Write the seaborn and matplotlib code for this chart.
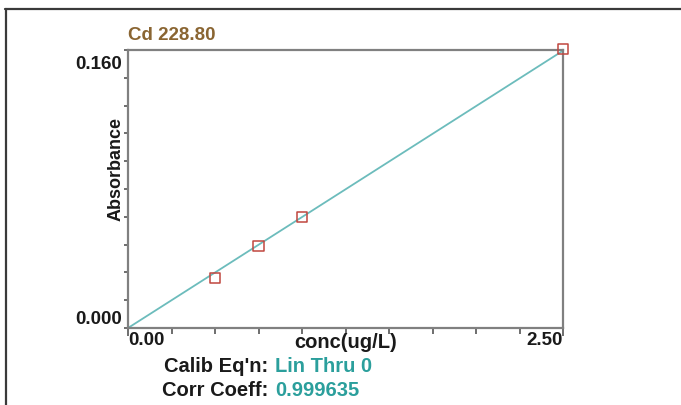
import numpy as np
import pandas as pd
import matplotlib
matplotlib.use("Agg")
import matplotlib.pyplot as plt
from matplotlib.lines import Line2D
from matplotlib.ticker import MultipleLocator
from matplotlib.transforms import ScaledTranslation
import seaborn as sns

# ---- data ----
title_text = "Cd 228.80"
conc = [0.5, 0.75, 1.0, 2.5]
absorbance = [0.0288, 0.0472, 0.0637, 0.1605]
y_ticks = [0.0, 0.160]
y_tick_labels = ["0.000", "0.160"]
x_ticks = [0.0, 2.5]
x_tick_labels = ["0.00", "2.50"]
x_label = "conc(ug/L)"
y_label = "Absorbance"
calib_eq = "Lin Thru 0"
corr_coeff = "0.999635"

sns.set_theme(style="white")
plt.rcParams["font.family"] = ["Liberation Sans", "DejaVu Sans"]

df = pd.DataFrame({"conc": conc, "abs": absorbance})
x = np.array(conc)
y = np.array(absorbance)
slope = (x * y).sum() / (x * x).sum()
fit = pd.DataFrame({"conc": [0.0, x.max()], "abs": [0.0, slope * x.max()]})

fig = plt.figure(figsize=(6.81, 4.05), dpi=100)
W, H = 681, 405
ax = fig.add_axes([128 / W, 1 - 328 / H, (563 - 128) / W, (328 - 50) / H])

teal_line = "#6cbcbc"
teal_text = "#2b9f9c"
marker_col = "#c0463f"
dark = "#1a1a1a"

sns.lineplot(data=fit, x="conc", y="abs", ax=ax, color=teal_line, linewidth=1.3)
sns.scatterplot(data=df, x="conc", y="abs", ax=ax, marker="s", s=55,
                facecolor="none", edgecolor=marker_col, linewidth=1.1,
                clip_on=False, zorder=5)

ax.set_xlim(0, 2.5)
ax.set_ylim(0, 0.16)

for sp in ax.spines.values():
    sp.set_color("#808080")
    sp.set_linewidth(1.6)
    sp.set_visible(True)

# y ticks
ax.set_yticks(y_ticks)
ax.set_yticklabels(y_tick_labels)
ax.yaxis.set_minor_locator(MultipleLocator(0.016))
ax.tick_params(axis="y", which="both", direction="out", length=3.2, width=1.2,
               color="#555555", left=True, pad=1)
ax.tick_params(axis="y", which="major", labelsize=13.5, labelcolor=dark)

# x ticks
ax.set_xticks(x_ticks)
ax.set_xticklabels(x_tick_labels)
ax.xaxis.set_minor_locator(MultipleLocator(0.25))
ax.tick_params(axis="x", which="major", direction="out", length=6, width=1.2,
               color="#555555", bottom=True, pad=-3.3, labelsize=13.5,
               labelcolor=dark)
ax.tick_params(axis="x", which="minor", direction="out", length=4, width=1.2,
               color="#555555", bottom=True)

ylabs = ax.get_yticklabels()
for lab in ylabs:
    lab.set_fontweight("bold")
ylabs[0].set_va("bottom")
ylabs[1].set_va("top")
ylabs[1].set_transform(ylabs[1].get_transform() +
                       ScaledTranslation(0, -4.5 / 72, fig.dpi_scale_trans))

xlabs = ax.get_xticklabels()
for lab in xlabs:
    lab.set_fontweight("bold")
xlabs[0].set_ha("left")
xlabs[1].set_ha("right")

ax.set_xlabel("")
ax.set_ylabel("")
fig.text(345.5 / W, 1 - 347.5 / H, x_label, ha="center", va="baseline",
         fontsize=14.5, fontweight="bold", color=dark)
fig.text(116 / W, 1 - 169 / H, y_label, ha="center", va="center",
         rotation=90, fontsize=13, fontweight="bold", color=dark)

# title
fig.text(128 / W, 1 - 40 / H, title_text, ha="left", va="baseline",
         fontsize=13.5, fontweight="bold", color="#8a6532")

# calibration text
fig.text(268 / W, 1 - 371.5 / H, "Calib Eq'n:", ha="right", va="baseline",
         fontsize=14.5, fontweight="bold", color=dark)
fig.text(275 / W, 1 - 371.5 / H, calib_eq, ha="left", va="baseline",
         fontsize=14.5, fontweight="bold", color=teal_text)
fig.text(268 / W, 1 - 395.5 / H, "Corr Coeff:", ha="right", va="baseline",
         fontsize=14.5, fontweight="bold", color=dark)
fig.text(275 / W, 1 - 395.5 / H, corr_coeff, ha="left", va="baseline",
         fontsize=14.5, fontweight="bold", color=teal_text)

# outer frame (top and left)
fig.add_artist(Line2D([5 / W, 1], [1 - 8.5 / H, 1 - 8.5 / H],
                      transform=fig.transFigure, color="#3a3a3a", linewidth=1.6))
fig.add_artist(Line2D([5.5 / W, 5.5 / W], [0, 1 - 8.5 / H],
                      transform=fig.transFigure, color="#3a3a3a", linewidth=1.6))

fig.savefig("out.png", dpi=100)
